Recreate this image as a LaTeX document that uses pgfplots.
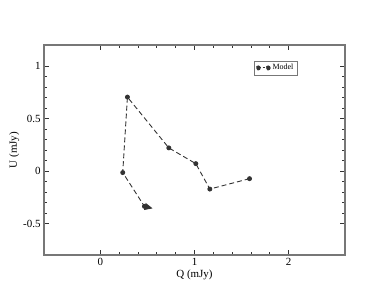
\documentclass[border=0pt]{standalone}
\usepackage{fontspec}
\setmainfont{Liberation Serif}
\usepackage{pgfplots}
\pgfplotsset{compat=1.18}
\usetikzlibrary{arrows.meta}
\definecolor{frame}{HTML}{777777}
\definecolor{ink}{HTML}{333333}

\begin{document}
\begin{tikzpicture}
\useasboundingbox (-44bp,-45bp) rectangle (344bp,255bp);
\begin{axis}[
  at={(0,0)}, anchor=south west,
  scale only axis, width=301bp, height=210bp,
  xmin=-0.6, xmax=2.6, ymin=-0.8, ymax=1.2,
  xtick={0,1,2}, ytick={-0.5,0,0.5,1},
  minor x tick num=4, minor y tick num=4,
  tick align=inside, major tick length=5bp, minor tick length=3bp,
  tick style={ink, line width=0.8pt},
  axis line style={frame, line width=1.2pt},
  xticklabels={0,1,2}, yticklabels={-0.5,0,0.5,1},
  tick label style={font=\fontsize{11}{13}\selectfont},
  xlabel={Q (mJy)}, ylabel={U (mJy)},
  label style={font=\fontsize{11}{13}\selectfont},
  xlabel style={yshift=3bp}, ylabel style={yshift=-3bp},
  legend style={at={(0.698,0.925)}, anchor=north west, draw=frame,
    font=\fontsize{8}{9}\selectfont, inner sep=1.5pt},
  legend cell align=left,
  legend image code/.code={
    \draw[ink, line width=0.9pt, dash pattern=on 2.5pt off 2pt] (0cm,0cm) -- (0.35cm,0cm);
    \fill[ink] (0cm,0cm) circle (2pt);
    \fill[ink] (0.35cm,0cm) circle (2pt);
  },
]
\addplot[ink, line width=0.9pt, dash pattern=on 5pt off 3pt,
  mark=*, mark size=2pt, mark options={solid, fill=ink}]
  coordinates {
    (1.585,-0.073) (1.163,-0.172) (1.014,0.070) (0.727,0.220)
    (0.287,0.704) (0.237,-0.015) (0.468,-0.337)
  };
\addlegendentry{Model}
\addplot[ink, line width=0.9pt, -{Triangle[length=8bp, width=7bp]},
  forget plot]
  coordinates {(0.468,-0.337) (0.555,-0.356)};
\end{axis}
\end{tikzpicture}
\end{document}
